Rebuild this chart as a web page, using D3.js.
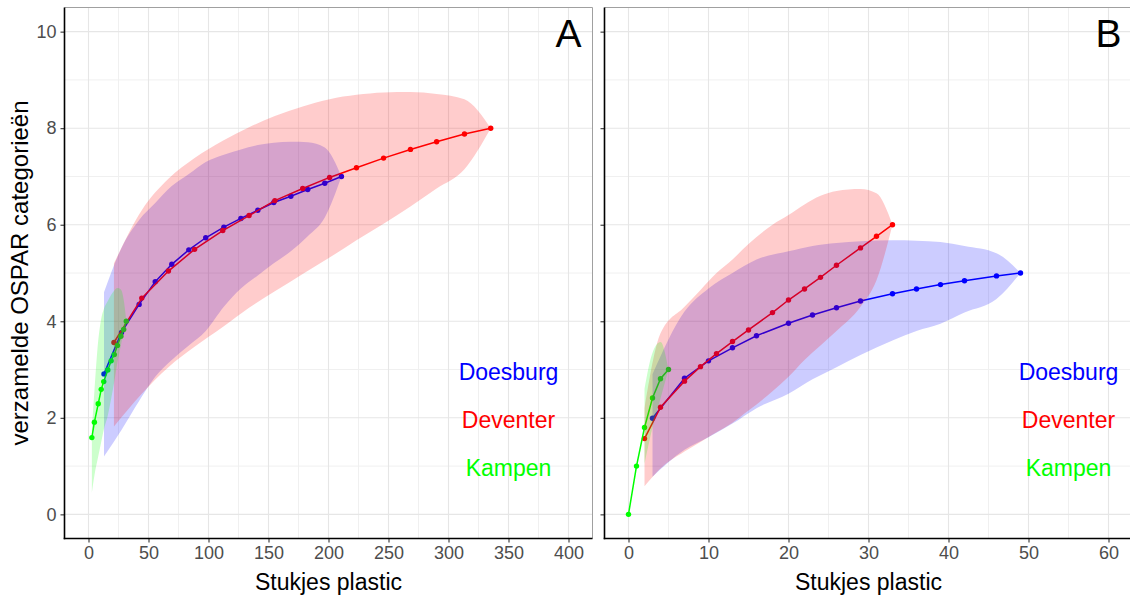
<!DOCTYPE html>
<html><head><meta charset="utf-8">
<script src="https://cdn.jsdelivr.net/npm/d3@7"></script>
<style>body{margin:0;background:#fff}</style>
</head><body>
<svg id="c" width="1130" height="597"></svg>
<script>
// ---------- Data ----------
// Panel A
const aDoesburgX  = [12.9, 27.5, 42.2, 55.6, 69.4, 83.6, 97.7, 112.8, 127, 141.1, 154.4, 168.6, 182.7, 196.9, 210.8];
const aDoesburgY  = [2.91, 3.77, 4.35, 4.82, 5.18, 5.48, 5.73, 5.95, 6.13, 6.30, 6.46, 6.59, 6.73, 6.86, 7.0];
const aDoesburgLo = [1.2, 1.75, 2.35, 2.85, 3.2, 3.5, 3.8, 4.3, 4.68, 4.95, 5.2, 5.45, 5.76, 6.15, 7.0];
const aDoesburgHi = [4.6, 5.52, 6.1, 6.45, 6.8, 7.05, 7.3, 7.45, 7.56, 7.65, 7.70, 7.72, 7.71, 7.6, 7.0];

const aDeventerX  = [21.2, 44.4, 66.6, 88.4, 111.9, 133.8, 155.3, 178.5, 200.9, 223.3, 245.9, 268.3, 290.1, 313.3, 335.2];
const aDeventerY  = [3.56, 4.48, 5.04, 5.49, 5.88, 6.19, 6.50, 6.75, 6.98, 7.18, 7.38, 7.56, 7.72, 7.88, 8.0];
const aDeventerLo = [1.82, 2.5, 3.05, 3.47, 3.88, 4.28, 4.62, 4.98, 5.32, 5.68, 6.02, 6.38, 6.75, 7.15, 8.0];
const aDeventerHi = [5.2, 6.3, 6.95, 7.38, 7.74, 8.02, 8.25, 8.45, 8.6, 8.69, 8.74, 8.75, 8.71, 8.6, 8.0];

const aKampenX  = [2.8, 4.9, 8.1, 10.6, 12.7, 16.1, 18.9, 21.5, 24.1, 27.0, 29.3, 31.5];
const aKampenY  = [1.59, 1.91, 2.29, 2.59, 2.75, 2.99, 3.18, 3.31, 3.50, 3.69, 3.83, 4.0];
const aKampenLo = [0.44, 0.8, 1.2, 1.5, 1.75, 2.05, 2.4, 2.75, 3.15, 3.5, 3.8, 4.0];
const aKampenHi = [1.75, 2.55, 3.6, 4.05, 4.25, 4.42, 4.55, 4.64, 4.69, 4.66, 4.45, 4.0];

// Panel B
const bDoesburgX  = [3, 7, 10, 13, 16, 20, 23, 26, 29, 33, 36, 39, 42, 46, 49];
const bDoesburgY  = [1.99, 2.82, 3.18, 3.45, 3.70, 3.96, 4.13, 4.28, 4.42, 4.57, 4.67, 4.76, 4.84, 4.94, 5.0];
const bDoesburgLo = [0.78, 1.34, 1.6, 1.88, 2.2, 2.5, 2.8, 3.05, 3.3, 3.6, 3.8, 3.95, 4.18, 4.46, 5.0];
const bDoesburgHi = [2.9, 4.2, 4.68, 5.0, 5.28, 5.45, 5.56, 5.62, 5.66, 5.68, 5.67, 5.64, 5.56, 5.41, 5.0];

const bDeventerX  = [2, 4, 7, 9, 11, 13, 15, 18, 20, 22, 24, 26, 29, 31, 33];
const bDeventerY  = [1.57, 2.22, 2.76, 3.06, 3.33, 3.58, 3.82, 4.18, 4.44, 4.67, 4.91, 5.16, 5.52, 5.76, 6.0];
const bDeventerLo = [0.58, 0.95, 1.3, 1.5, 1.7, 1.9, 2.15, 2.55, 2.85, 3.2, 3.5, 3.8, 4.3, 4.85, 6.0];
const bDeventerHi = [2.2, 3.75, 4.3, 4.65, 5.0, 5.28, 5.6, 6.0, 6.2, 6.42, 6.6, 6.7, 6.74, 6.65, 6.0];

const bKampenX  = [0, 1, 2, 3, 4, 5];
const bKampenY  = [0, 1.0, 1.8, 2.41, 2.81, 3.0];
const bKampenLo = [null, null, 1.05, 1.8, 2.4, 3.0];
const bKampenHi = [null, null, 2.6, 3.35, 3.57, 3.0];

const siteNames  = ["Doesburg", "Deventer", "Kampen"];
const siteColors = ["#0000ff", "#ff0000", "#00ff00"];
const labelYs    = [3, 2, 1];

const aTicks = [0, 50, 100, 150, 200, 250, 300, 350, 400];
const bTicks = [0, 10, 20, 30, 40, 50, 60];
const yTicks = [0, 2, 4, 6, 8, 10];

const yTitle = "verzamelde OSPAR categorieën";
const xTitle = "Stukjes plastic";

// ---------- Build ----------
function zipS(xs, ys, lo, hi) { return xs.map((x, i) => ({x, y: ys[i], lo: lo[i], hi: hi[i]})); }

const FONT = "'Liberation Sans', Arial, Helvetica, sans-serif";
const svg = d3.select("#c");
const y = d3.scaleLinear().domain([-0.5, 10.5]).range([538.5, 7.5]);

const panels = [
  { key: "A", x: d3.scaleLinear().domain([-20, 420]).range([64.5, 592.5]),
    ticks: aTicks, minorStep: 25, labelX: 350, letterX: 400, showY: true,
    series: [zipS(aDoesburgX, aDoesburgY, aDoesburgLo, aDoesburgHi),
             zipS(aDeventerX, aDeventerY, aDeventerLo, aDeventerHi),
             zipS(aKampenX, aKampenY, aKampenLo, aKampenHi)] },
  { key: "B", x: d3.scaleLinear().domain([-3, 63]).range([604.5, 1132.5]),
    ticks: bTicks, minorStep: 5, labelX: 55, letterX: 60, showY: false,
    series: [zipS(bDoesburgX, bDoesburgY, bDoesburgLo, bDoesburgHi),
             zipS(bDeventerX, bDeventerY, bDeventerLo, bDeventerHi),
             zipS(bKampenX, bKampenY, bKampenLo, bKampenHi)] }
];

panels.forEach((p) => {
  const x = p.x;
  const [x0, x1] = x.range();
  const [yb, yt] = y.range();
  const g = svg.append("g");
  const clipId = "clip" + p.key;
  svg.append("clipPath").attr("id", clipId).append("rect")
    .attr("x", x0).attr("y", yt).attr("width", x1 - x0).attr("height", yb - yt);

  // grid
  const dom = x.domain();
  const minors = d3.range(Math.ceil(dom[0] / p.minorStep) * p.minorStep, dom[1], p.minorStep)
    .filter(v => !p.ticks.includes(v));
  const grid = g.append("g");
  grid.selectAll(".vmin").data(minors).join("line")
    .attr("x1", d => x(d)).attr("x2", d => x(d)).attr("y1", yt).attr("y2", yb)
    .attr("stroke", "#f0f0f0").attr("stroke-width", 1);
  grid.selectAll(".hmin").data([1, 3, 5, 7, 9]).join("line")
    .attr("x1", x0).attr("x2", x1).attr("y1", d => y(d)).attr("y2", d => y(d))
    .attr("stroke", "#f0f0f0").attr("stroke-width", 1);
  grid.selectAll(".vmaj").data(p.ticks).join("line")
    .attr("x1", d => x(d)).attr("x2", d => x(d)).attr("y1", yt).attr("y2", yb)
    .attr("stroke", "#e6e6e6").attr("stroke-width", 1.1);
  grid.selectAll(".hmaj").data(yTicks).join("line")
    .attr("x1", x0).attr("x2", x1).attr("y1", d => y(d)).attr("y2", d => y(d))
    .attr("stroke", "#e6e6e6").attr("stroke-width", 1.1);

  // data layers (lines + points first, ribbons on top, as in the reference)
  const plot = g.append("g").attr("clip-path", `url(#${clipId})`);
  const line = d3.line().x(d => x(d.x)).y(d => y(d.y));
  p.series.forEach((s, si) => {
    plot.append("path").datum(s).attr("d", line)
      .attr("fill", "none").attr("stroke", siteColors[si]).attr("stroke-width", 1.5);
    plot.append("g").selectAll("circle").data(s).join("circle")
      .attr("cx", d => x(d.x)).attr("cy", d => y(d.y)).attr("r", 2.7)
      .attr("fill", siteColors[si]);
  });
  const area = d3.area().defined(d => d.lo != null).curve(d3.curveMonotoneX)
    .x(d => x(d.x)).y0(d => y(d.lo)).y1(d => y(d.hi));
  p.series.forEach((s, si) => {
    plot.append("path").datum(s).attr("d", area)
      .attr("fill", siteColors[si]).attr("fill-opacity", 0.2).attr("stroke", "none");
  });

  // site labels
  siteNames.forEach((n, i) => {
    g.append("text").attr("x", x(p.labelX)).attr("y", y(labelYs[i]) + 10)
      .attr("text-anchor", "middle").attr("font-family", FONT).attr("font-size", 23)
      .attr("fill", siteColors[i]).text(n);
  });
  // panel letter
  g.append("text").attr("x", x(p.letterX)).attr("y", y(10) + 15.5)
    .attr("text-anchor", "middle").attr("font-family", FONT).attr("font-size", 39)
    .attr("fill", "#000").text(p.key);

  // borders
  g.append("line").attr("x1", x0).attr("x2", x1).attr("y1", yt).attr("y2", yt)
    .attr("stroke", "#a0a0a0").attr("stroke-width", 1);
  g.append("line").attr("x1", x1).attr("x2", x1).attr("y1", yt).attr("y2", yb)
    .attr("stroke", "#a0a0a0").attr("stroke-width", 1);

  // x axis
  const xa = g.append("g").attr("transform", `translate(0,${yb})`)
    .call(d3.axisBottom(x).tickValues(p.ticks).tickSize(4).tickPadding(4).tickSizeOuter(0));
  xa.select(".domain").remove();
  xa.selectAll(".tick line").attr("stroke", "#333").attr("stroke-width", 1.1);
  xa.selectAll(".tick text").attr("font-family", FONT).attr("font-size", 18).attr("fill", "#4d4d4d");

  // y axis
  const ya = g.append("g").attr("transform", `translate(${x0},0)`)
    .call(d3.axisLeft(y).tickValues(yTicks).tickSize(4).tickPadding(4).tickSizeOuter(0));
  ya.select(".domain").remove();
  ya.selectAll(".tick line").attr("stroke", "#333").attr("stroke-width", 1.1);
  ya.selectAll(".tick text").attr("font-family", FONT).attr("font-size", 18).attr("fill", "#4d4d4d")
    .style("display", p.showY ? null : "none");

  // axis lines
  g.append("line").attr("x1", x0).attr("x2", x0).attr("y1", yt).attr("y2", yb + 0.8)
    .attr("stroke", "#000").attr("stroke-width", 1.6);
  g.append("line").attr("x1", x0 - 0.8).attr("x2", x1).attr("y1", yb).attr("y2", yb)
    .attr("stroke", "#000").attr("stroke-width", 1.6);

  // x title
  svg.append("text").attr("x", (x0 + x1) / 2).attr("y", 590)
    .attr("text-anchor", "middle").attr("font-family", FONT).attr("font-size", 23)
    .attr("fill", "#000").text(xTitle);
});

svg.append("text").attr("transform", `translate(28,${(538.5 + 7.5) / 2}) rotate(-90)`)
  .attr("text-anchor", "middle").attr("font-family", FONT).attr("font-size", 24)
  .attr("fill", "#000").text(yTitle);
</script>
</body></html>
